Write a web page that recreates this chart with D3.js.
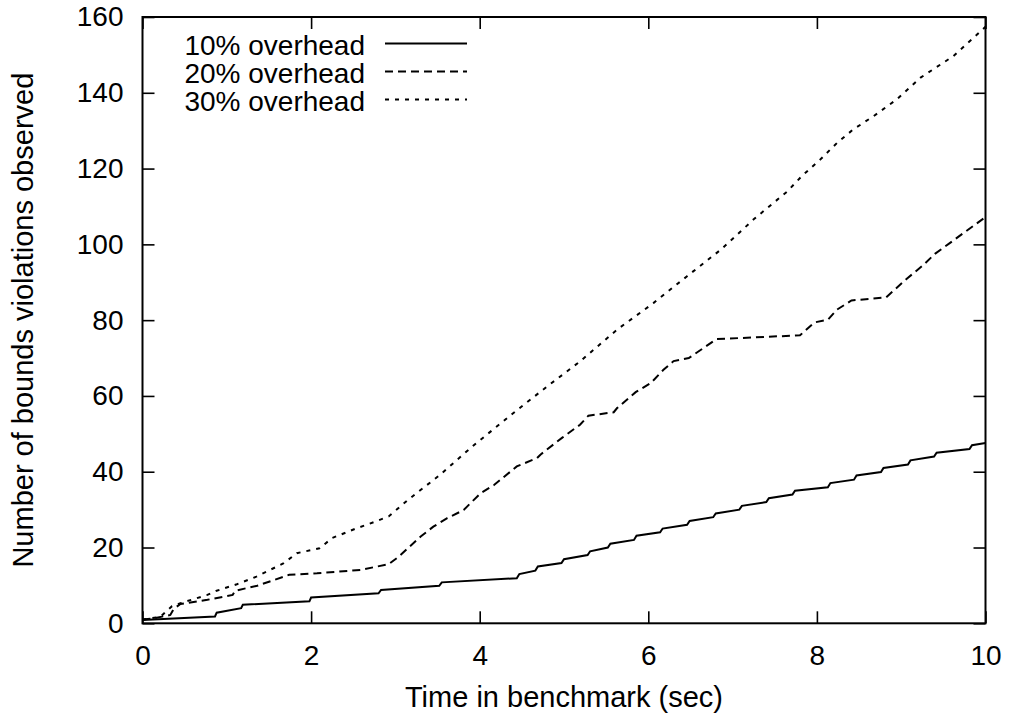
<!DOCTYPE html>
<html>
<head>
<meta charset="utf-8">
<script src="https://cdn.jsdelivr.net/npm/d3@7"></script>
<style>
  html, body { margin: 0; padding: 0; background: #fff; }
  svg { display: block; font-family: "Liberation Sans", Arial, Helvetica, sans-serif; }
</style>
</head>
<body>
<svg id="chart" width="1010" height="713"></svg>
<script>
// Cumulative bounds violations over time, one series per overhead level.
const seriesNames = ["10% overhead", "20% overhead", "30% overhead"];

const time10 = [0,0.86,0.88,1.17,1.19,1.98,2.0,2.8,2.83,3.52,3.55,4.44,4.47,4.66,4.69,4.97,5.0,5.28,5.31,5.52,5.55,5.83,5.86,6.14,6.17,6.46,6.49,6.77,6.8,7.08,7.11,7.4,7.43,7.71,7.74,8.13,8.16,8.44,8.47,8.76,8.79,9.08,9.11,9.39,9.42,9.81,9.84,10];
const count10 = [0.9,1.8,2.8,4.0,4.9,5.8,6.8,7.9,8.8,9.9,10.8,11.9,13.0,13.9,15.0,15.9,16.9,18.0,19.0,20.0,21.0,22.0,23.1,24.0,25.0,26.0,27.0,28.0,29.0,30.0,31.0,32.0,33.0,34.0,35.0,35.9,37.0,37.9,39.0,39.9,41.0,41.9,43.0,44.0,45.0,46.0,47.0,47.6];

const time20 = [0,0.13,0.33,0.37,0.45,0.77,1.07,1.1,1.36,1.74,2.07,2.59,2.92,3.04,3.30,3.45,3.61,3.81,3.85,4.01,4.17,4.44,4.68,4.72,4.98,5.19,5.29,5.59,5.63,5.85,6.03,6.18,6.30,6.48,6.81,7.80,7.97,8.13,8.24,8.41,8.82,9.07,9.26,9.40,9.58,9.74,10];
const count20 = [1.0,1.3,2.2,3.8,5.1,6.2,7.5,8.6,9.9,12.8,13.2,14.1,15.6,17.6,22.9,25.5,27.7,29.9,30.8,34.3,36.5,41.4,43.6,44.5,49.0,52.4,54.8,55.7,56.8,61.0,63.4,66.9,69.2,70.0,75.0,76.0,79.4,80.1,82.8,85.2,86.0,91.0,94.5,97.5,100.4,103.0,107.2];

const time30 = [0,0.21,0.35,0.45,0.77,0.88,1.12,1.35,1.67,1.83,2.1,2.25,2.54,2.66,2.92,3.14,3.53,3.93,4.40,4.80,5.19,5.63,6.06,6.46,6.86,7.25,7.65,7.82,8.04,8.24,8.43,8.67,8.95,9.23,9.62,10];
const count30 = [1.0,1.7,4.5,5.3,7.5,8.6,10.3,12.3,15.8,18.5,19.8,22.5,25.1,26.0,28.2,32.4,39.2,47.0,55.5,62.5,69.1,77.5,84.5,91.6,98.6,106.6,114.0,118.0,122.4,126.8,130.3,133.8,138.3,144.0,149.7,157.4];

const xTicks = [0, 2, 4, 6, 8, 10];
const yTicks = [0, 20, 40, 60, 80, 100, 120, 140, 160];
const xTitle = "Time in benchmark (sec)";
const yTitle = "Number of bounds violations observed";

// Layout
const plotLeft = 142.5, plotRight = 985.5, plotTop = 17, plotBottom = 623.3;
const tickFont = 28;
const legendFont = 28;
const titleFont = 29;
const dashStyles = [null, "8,5", "4,6"];

const svg = d3.select("#chart");

const x = d3.scaleLinear().domain([0, 10]).range([plotLeft, plotRight]);
const y = d3.scaleLinear().domain([0, 160]).range([plotBottom, plotTop]);

// Axes with inward ticks, mirrored on top and right
function styleAxis(g) {
  g.select(".domain").remove();
  g.selectAll(".tick line").attr("stroke", "#000").attr("stroke-width", 1.6);
  g.selectAll(".tick text")
    .attr("fill", "#000")
    .style("font-size", tickFont + "px")
    .style("font-family", '"Liberation Sans", Arial, sans-serif');
}

svg.append("g")
  .attr("transform", `translate(0,${plotBottom})`)
  .call(d3.axisBottom(x).tickValues(xTicks).tickFormat(d3.format("d")).tickSize(-12).tickPadding(22))
  .call(styleAxis);

svg.append("g")
  .attr("transform", `translate(0,${plotTop})`)
  .call(d3.axisTop(x).tickValues(xTicks).tickFormat("").tickSize(-12))
  .call(styleAxis);

svg.append("g")
  .attr("transform", `translate(${plotLeft},0)`)
  .call(d3.axisLeft(y).tickValues(yTicks).tickFormat(d3.format("d")).tickSize(-12).tickPadding(19))
  .call(styleAxis);

svg.append("g")
  .attr("transform", `translate(${plotRight},0)`)
  .call(d3.axisRight(y).tickValues(yTicks).tickFormat("").tickSize(-12))
  .call(styleAxis);

// Series lines
const series = [
  time10.map((t, i) => [t, count10[i]]),
  time20.map((t, i) => [t, count20[i]]),
  time30.map((t, i) => [t, count30[i]])
];

const line = d3.line().x(d => x(d[0])).y(d => y(d[1]));

svg.append("g")
  .selectAll("path")
  .data(series)
  .join("path")
  .attr("d", line)
  .attr("fill", "none")
  .attr("stroke", "#000")
  .attr("stroke-width", 2)
  .attr("stroke-linejoin", "miter")
  .attr("stroke-dasharray", (d, i) => dashStyles[i]);

// Plot frame
svg.append("rect")
  .attr("x", plotLeft).attr("y", plotTop)
  .attr("width", plotRight - plotLeft).attr("height", plotBottom - plotTop)
  .attr("fill", "none").attr("stroke", "#000").attr("stroke-width", 2);

// Legend
const legend = svg.append("g");
seriesNames.forEach((name, i) => {
  const base = 55 + i * 28;
  legend.append("text")
    .attr("x", 365).attr("y", base)
    .attr("text-anchor", "end")
    .style("font-size", legendFont + "px")
    .text(name);
  legend.append("line")
    .attr("x1", 385).attr("x2", 467)
    .attr("y1", base - 11.5).attr("y2", base - 11.5)
    .attr("stroke", "#000").attr("stroke-width", 2)
    .attr("stroke-dasharray", dashStyles[i]);
});

// Axis titles
svg.append("text")
  .attr("x", (plotLeft + plotRight) / 2).attr("y", 707)
  .attr("text-anchor", "middle")
  .style("font-size", titleFont + "px")
  .text(xTitle);

svg.append("text")
  .attr("transform", `translate(33,${(plotTop + plotBottom) / 2}) rotate(-90)`)
  .attr("text-anchor", "middle")
  .style("font-size", titleFont + "px")
  .text(yTitle);
</script>
</body>
</html>
